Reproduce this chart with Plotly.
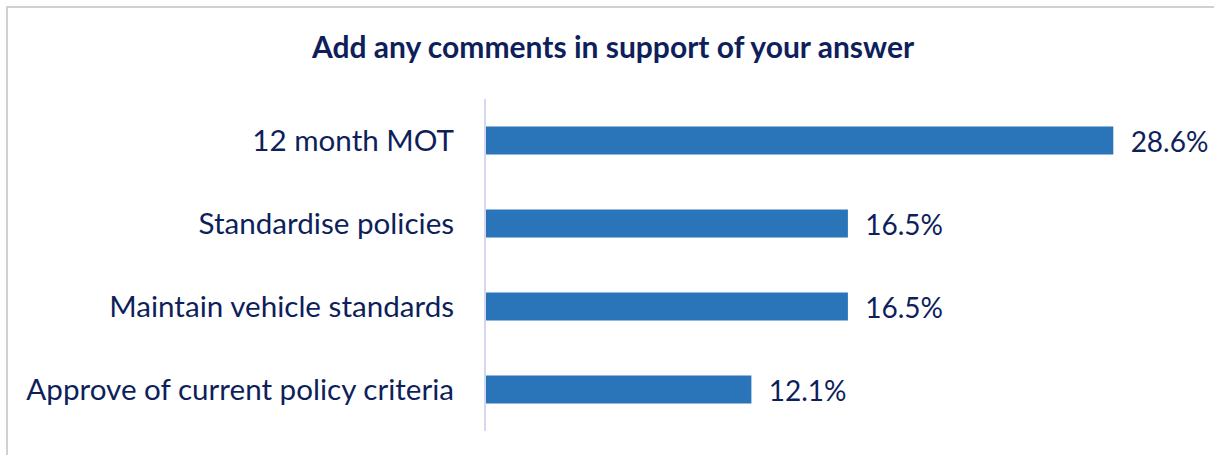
import plotly.graph_objects as go

categories = ["12 month MOT", "Standardise policies", "Maintain vehicle standards", "Approve of current policy criteria"]
values = [28.6, 16.5, 16.5, 12.1]
labels = ["28.6%", "16.5%", "16.5%", "12.1%"]
title_text = "Add any comments in support of your answer"

navy = "#0E1F5B"
font_family = "Lato, 'Open Sans', sans-serif"

W, H = 1214, 455
L, R, T, B = 486, 70, 99, 24
pw, ph = W - L - R, H - T - B

bx0 = (7 - L) / pw
bx1 = (W + 40 - L) / pw
by0 = (H - B - (H + 40)) / ph
by1 = (H - B - 7) / ph

fig = go.Figure(go.Bar(
    x=values, y=categories, orientation="h",
    marker=dict(color="#2A74B9", line=dict(width=0)),
    width=0.34,
    text=labels, textposition="outside",
    texttemplate="  %{text}",
    constraintext="none",
    textfont=dict(size=28, color=navy, family=font_family),
    cliponaxis=False,
))

fig.update_layout(
    width=W, height=H,
    margin=dict(l=L, r=R, t=T, b=B),
    paper_bgcolor="white", plot_bgcolor="white",
    showlegend=False,
    title=dict(text="<b>" + title_text + "</b>", x=613 / W, xanchor="center",
               y=1 - 47 / H, yanchor="middle",
               font=dict(size=30, color=navy, family=font_family)),
    xaxis=dict(range=[0, 30], visible=False, fixedrange=True),
    yaxis=dict(autorange="reversed", showline=True, linecolor="#D6D6EE", linewidth=2,
               ticks="", showgrid=False, zeroline=False, ticklabelstandoff=24,
               tickfont=dict(size=29.6, color=navy, family=font_family)),
    shapes=[dict(type="path", xref="paper", yref="paper",
                 path=f"M {bx1},{by1} L {bx0},{by1} L {bx0},{by0}",
                 line=dict(color="#D0D0D0", width=2), layer="below")],
)

fig.write_html("out.html", config={"displayModeBar": False},
               post_script="document.body.style.margin='0';document.body.style.overflow='hidden';")
